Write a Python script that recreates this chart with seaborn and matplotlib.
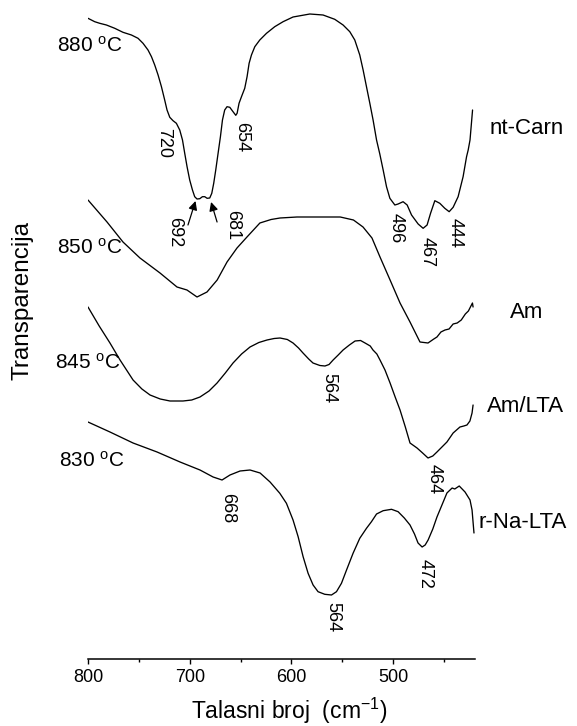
import matplotlib
matplotlib.use("Agg")
import matplotlib.pyplot as plt
import seaborn as sns
import pandas as pd
from matplotlib.ticker import MultipleLocator

# ---------------- data ----------------
w_880 = [800, 793.4, 788.5, 781.9, 773.7, 765.6, 757.3, 750.8, 745.9, 741, 737.6, 734.4, 731.1, 727.8, 724.6,
         722.3, 719.6, 716.4, 713.1, 709.8, 707.1, 704.9, 702.6, 700, 697.3, 695.1, 692.8, 690.1, 687.5, 685.2,
         682.9, 680.3, 678.3, 676.4, 674.4, 672.1, 669.8, 667.8, 665.6, 663.3, 660.6, 657.4, 654.7, 653.4, 651.5,
         649.1, 645.9, 643.6, 641.6, 639.3, 636, 631.1, 624.5, 616.4, 608.2, 598.4, 581.9, 568.9, 557.4, 549.2,
         542.6, 537.7, 532.8, 529.5, 526.2, 522.9, 519.7, 516.3, 513.1, 509.8, 506.5, 503.2, 498.3, 495.1, 490.2,
         486.2, 481.9, 475.4, 470.5, 466.6, 463.2, 459, 454.1, 449.2, 444.9, 441, 436.1, 431.2, 427.8, 426.2,
         424.4, 421.9]
t_880 = [640.7, 637.3, 635.7, 634, 630.7, 626.7, 624, 620.7, 615.7, 609, 602.3, 594, 584, 572.3, 559, 549,
         541.7, 538.3, 535.7, 529, 519, 505.7, 492.3, 479, 469, 462.3, 460, 460.3, 462.3, 462.3, 460.7, 461,
         465.7, 475.7, 489, 505.7, 522.3, 539, 549, 552.3, 551.7, 547.3, 543.7, 545.7, 555.7, 562.3, 570.7,
         582.3, 595.7, 604, 612.3, 619, 625.7, 632.3, 637.3, 642, 645, 644, 639.7, 634, 627.3, 619, 604, 589,
         572.3, 555.7, 539, 519, 505, 489, 472.3, 460.7, 454, 455, 457.3, 454, 444, 435, 430.7, 434, 445.7,
         458.3, 455.7, 450.7, 447.3, 451.7, 462.3, 482.3, 502.3, 509, 519, 549]

w_850 = [800, 781.3, 765.6, 748.9, 729.2, 712.5, 702.7, 692.8, 683, 673, 663.3, 653.5, 643.7, 631, 620, 611.2,
         594.5, 578.8, 562, 552, 539, 529.6, 520.8, 512.9, 503, 493.2, 483.4, 473.6, 465.7, 460, 456.9, 453, 449,
         445, 441, 437, 433, 429, 426, 423.5, 422, 421.4]
t_850 = [459, 437, 417, 401, 386, 372, 369, 362, 367, 379, 397, 411, 422, 436, 439.5, 441, 442, 442, 442, 442,
         439, 432, 421, 402, 379, 356, 337, 317, 316, 320, 322, 327, 329, 330, 335, 336, 339, 345, 348, 353, 356,
         352]

w_845 = [800, 789, 778.4, 768.5, 755.7, 747, 739, 729, 719.4, 706.6, 698, 689.9, 681, 673.1, 665, 657.4, 649,
         640.7, 632, 624, 617, 611.2, 604, 598.4, 593, 588.6, 583, 578.8, 572, 567, 563, 559, 554, 549.2, 543,
         537.4, 532, 527.6, 522.5, 519.8, 516, 512.9, 508, 503, 498, 493.2, 488, 483.4, 476.5, 471, 465.7,
         461, 456.9, 452, 447.1, 441, 434.3, 430.5, 427.4, 424.5, 422.4, 421.4]
t_845 = [352, 333, 316, 299, 279, 270, 264, 260, 258, 258, 259, 262, 268, 276, 286, 296, 305, 312, 316.5, 319,
         320.5, 321, 319.5, 316, 311, 306, 300, 296, 293.5, 293, 294.5, 299, 304, 309, 314, 318, 318.5, 316, 313,
         309, 305, 299, 289, 276, 262, 249, 232, 216, 211, 206, 201, 203, 207, 212, 217, 226, 232, 233, 234, 238,
         246, 254]

w_830 = [800, 778.4, 755.7, 732.1, 709.5, 689.9, 677, 668.2, 660.4, 650.5, 640.7, 630.8, 621, 611.4, 604.9, 598.4,
         593.4, 588.5, 583.6, 578.7, 573.8, 567.2, 560.6, 555.7, 550.8, 545.8, 539.4, 532.8, 526.2, 521.3, 516.3,
         509.8, 501.6, 495.1, 489, 483.4, 479, 475.5, 471.5, 468.5, 465.6, 461, 456.9, 452, 447.1, 442, 439.4,
         435, 429.3, 424.4, 422.4, 420.5]
t_830 = [237, 227, 216, 207, 197, 189, 182, 179, 184, 188, 189, 186, 177, 165.7, 155.7, 139, 122.3, 102.3, 85.7,
         74, 67.3, 64.7, 64, 67.3, 75.7, 89, 105.7, 120.7, 130.7, 137.3, 145, 148.3, 149.7, 147.3, 141, 134, 125,
         116, 112, 114, 119, 130, 142, 154, 166, 171, 170, 173, 167, 159, 149, 126]

temps = ["880", "850", "845", "830"]
samples = ["nt-Carn", "Am", "Am/LTA", "r-Na-LTA"]
x_ticks = [800, 700, 600, 500]

peaks_880 = ["720", "654", "692", "681", "496", "467", "444"]
peaks_845 = ["564", "464"]
peaks_830 = ["668", "564", "472"]

# ---------------- build table ----------------
frames = []
for name, w, t in zip(temps, [w_880, w_850, w_845, w_830], [t_880, t_850, t_845, t_830]):
    frames.append(pd.DataFrame({"w": w, "T": t, "s": name}))
df = pd.concat(frames, ignore_index=True)

sns.set_style("ticks")
plt.rcParams["font.family"] = ["Liberation Sans", "DejaVu Sans"]
plt.rcParams["mathtext.default"] = "regular"
for k in ["text.color", "axes.labelcolor", "xtick.color", "ytick.color", "axes.edgecolor"]:
    plt.rcParams[k] = "black"

fig = plt.figure(figsize=(5.77, 7.26), dpi=100)
ax = fig.add_axes([88 / 577, (726 - 659) / 726, 387 / 577, 654 / 726])

sns.lineplot(data=df, x="w", y="T", hue="s", units="s", estimator=None, sort=False,
             palette=["black"] * 4, legend=False, linewidth=0.95, ax=ax)

ax.set_xlim(800, 419.5)
ax.set_ylim(0, 654)
ax.set_yticks([])
ax.set_xticks(x_ticks)
ax.set_xticklabels([str(v) for v in x_ticks])
ax.xaxis.set_minor_locator(MultipleLocator(50))
for s in ["left", "top", "right"]:
    ax.spines[s].set_visible(False)
ax.spines["bottom"].set_linewidth(1.1)
ax.tick_params(axis="x", which="major", direction="out", length=3.3, width=1.0, labelsize=13, pad=4)
ax.tick_params(axis="x", which="minor", direction="out", length=1.8, width=1.0)

ax.set_xlabel("Talasni broj  (cm$^{-1}$)", fontsize=16.5, va="center")
ax.xaxis.set_label_coords(0.52, -0.079)
ax.set_ylabel("Transparencija", fontsize=17.5, va="center")
ax.yaxis.set_label_coords(-0.168, 0.548)

# temperature labels
for lab, (xx, yy) in zip(temps, [(830.5, 607), (830.5, 405), (832.5, 290), (828.5, 192)]):
    ax.text(xx, yy, lab + " $^{o}$C", fontsize=15, ha="left", va="baseline", clip_on=False)

# sample names
for lab, (xx, yy) in zip(samples, [(404.7, 531), (385, 347), (407.7, 252), (416.5, 136)]):
    ax.text(xx, yy, lab, fontsize=16, ha="left", va="center", clip_on=False)

# peak labels
pk = {"880": (peaks_880, [(726, 516), (648.5, 522), (714.4, 427), (657.4, 434), (497, 431), (466.7, 407), (439, 426)]),
      "845": (peaks_845, [(563, 271), (459.7, 180)]),
      "830": (peaks_830, [(662.3, 151), (559, 42), (468.6, 85)])}
for key, (labs, pos) in pk.items():
    for lab, (xx, yy) in zip(labs, pos):
        ax.text(xx, yy, lab, fontsize=13, rotation=270, ha="center", va="center")

# arrows for 692 / 681
for tail, head in [((701.7, 434), (694.3, 458)), ((673.1, 437), (679, 457))]:
    ax.annotate("", xy=head, xytext=tail,
                arrowprops=dict(arrowstyle="-|>", color="black", lw=0.9, mutation_scale=13,
                                shrinkA=0, shrinkB=0))

fig.savefig("out.png", dpi=100)
